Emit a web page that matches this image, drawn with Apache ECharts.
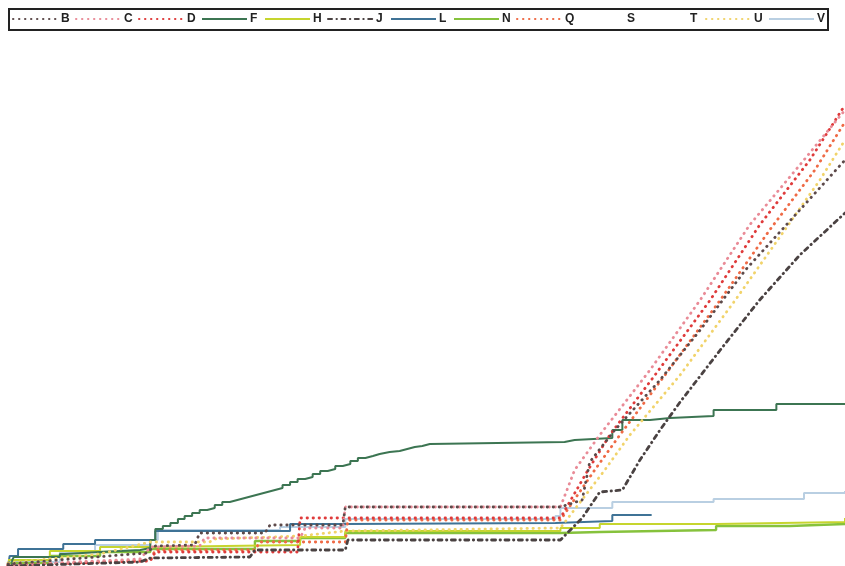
<!DOCTYPE html>
<html>
<head>
<meta charset="utf-8">
<script src="https://cdn.jsdelivr.net/npm/echarts@6/dist/echarts.min.js"></script>
<style>
  html, body { margin: 0; padding: 0; background: #fff; }
  #chart { width: 845px; height: 566px; }
</style>
</head>
<body>
<div id="chart"></div>
<script>
// Legend order
const names = ['B', 'C', 'D', 'F', 'H', 'J', 'L', 'N', 'Q', 'S', 'T', 'U', 'V'];

// Cumulative curves: [x, y] pairs
const seriesB = [[0,0.4],[16.5,2.6],[17.6,4.0],[22.3,4.2],[22.9,6.6],[30.7,6.6],[31.3,8.2],[40.0,8.2],[40.3,11.8],[66.0,11.8],[68.6,13.2],[69.5,20.8],[72.5,27.2],[77.9,37.2],[82.7,47.2],[88.1,59.2],[94.6,71.2],[100,81.2]];
const seriesC = [[0,0.2],[15.8,1.4],[17.0,3.8],[22.9,4.0],[23.5,5.6],[34.9,5.6],[35.5,7.6],[40.0,7.6],[40.3,11.8],[66.0,11.8],[67.7,19.2],[70.7,26.2],[76.7,39.2],[82.7,53.2],[88.6,68.2],[94.6,80.2],[100,91.2]];
const seriesD = [[0,0.2],[17.0,1.0],[17.6,2.8],[34.6,2.8],[34.9,9.6],[66.0,9.6],[69.3,19.2],[71.9,26.2],[77.3,38.2],[83.9,53.2],[89.8,68.2],[95.8,81.2],[100,92.2]];
const seriesF = [[0,0],[0.5,1.2],[0.7,1.8],[6.2,2.4],[6.8,2.8],[11.0,3.2],[15.8,3.6],[17.0,5.2],[17.6,7.4],[18.5,8.0],[19.4,8.6],[20.3,9.4],[21.1,10.0],[22.0,10.6],[22.9,11.2],[23.8,11.6],[24.7,12.2],[25.6,12.8],[26.5,13.2],[27.4,13.6],[28.3,14.0],[29.2,14.4],[30.1,14.8],[31.0,15.2],[31.9,15.6],[32.8,16.2],[33.7,16.8],[34.6,17.4],[35.5,17.8],[36.4,18.4],[37.3,19.0],[38.2,19.4],[39.1,20.0],[40.0,20.4],[40.9,21.0],[41.8,21.6],[42.7,22.0],[43.6,22.4],[44.4,22.8],[45.6,23.0],[46.8,23.4],[47.7,23.8],[48.6,24.0],[49.5,24.4],[50.4,24.8],[66.5,25.2],[67.7,25.6],[72.2,27.2],[73.4,29.2],[76.7,29.6],[79.1,30.0],[84.3,31.2],[91.8,32.4],[100,32.6]];
const seriesH = [[0,1.2],[5.0,3.0],[11.0,3.8],[17.0,4.2],[34.9,5.8],[40.3,7.0],[66.0,7.6],[70.7,8.4],[84.6,8.8],[100,9.6]];
const seriesJ = [[0,0],[15.8,0.8],[17.0,1.6],[28.9,1.8],[29.5,3.2],[40.3,3.2],[40.6,5.2],[66.0,5.2],[68.6,9.6],[70.7,14.8],[73.4,15.2],[75.5,21.2],[77.9,27.2],[80.3,32.8],[85.1,43.2],[89.8,53.2],[94.6,62.2],[100,70.6]];
const seriesL = [[0,0],[0.2,2.0],[1.2,3.4],[6.6,4.4],[10.4,5.2],[17.6,7.0],[33.7,8.4],[40.3,8.6],[65.4,9.0],[72.2,10.2],[76.9,10.2]];
const seriesN = [[0,0.6],[5.0,2.0],[11.0,2.8],[17.0,3.4],[29.5,5.0],[34.9,5.6],[40.3,6.6],[66.0,6.8],[70.7,7.2],[84.6,8.0],[93.4,8.4],[100,8.8]];
const seriesQ = [[0,0.2],[17.0,1.2],[17.6,3.2],[29.5,3.2],[30.1,4.8],[40.3,4.8],[40.6,9.2],[66.0,9.2],[70.1,19.2],[73.1,26.2],[78.5,38.2],[85.1,53.2],[91.0,67.2],[96.4,79.2],[100,88.8]];
const seriesS = [];
const seriesT = [];
const seriesU = [[0,0.6],[11.0,2.4],[17.0,4.8],[24.1,4.8],[24.7,5.4],[34.9,6.0],[40.3,7.0],[66.0,7.6],[71.3,19.2],[74.3,26.2],[80.3,38.2],[86.9,53.2],[92.8,67.2],[97.0,77.2],[100,85.2]];
const seriesV = [[0,0.8],[6.2,2.8],[10.4,4.2],[17.0,5.2],[17.9,7.2],[32.5,7.8],[40.3,9.4],[65.4,10.0],[66.0,11.6],[72.2,12.8],[84.3,13.4],[95.1,14.6],[100,15.0]];

// round dots: a tiny dash with a round cap
const dotted = [0.4, 5.6];

function solid(name, data, color, width) {
  return {
    name, type: 'line', data, step: 'end', symbol: 'none', silent: true,
    lineStyle: { color, width: width || 2 }, itemStyle: { color }
  };
}
function dots(name, data, color, dash) {
  return {
    name, type: 'line', data, symbol: 'none', silent: true,
    lineStyle: { color, width: 2.8, type: dash || dotted, cap: 'round' },
    itemStyle: { color }
  };
}
function blank(name, data) {
  return {
    name, type: 'line', data, symbol: 'none', silent: true,
    lineStyle: { color: 'rgba(255,255,255,0)', width: 0 },
    itemStyle: { color: 'rgba(255,255,255,0)' }
  };
}

// one legend entry per slot, evenly spaced inside a framed strip
const legendLeft = 12, legendStep = 63;
const legends = names.map((n, i) => ({
  data: [n],
  left: legendLeft + i * legendStep, top: 13,
  padding: 0, itemWidth: 45, itemHeight: 14, itemGap: 0,
  selectedMode: false,
  itemStyle: { opacity: 0 },
  textStyle: {
    fontFamily: 'Liberation Sans, Arial, sans-serif',
    fontWeight: 'bold', fontSize: 12, color: '#222', padding: [0, 0, 0, -2]
  }
}));

const chart = echarts.init(document.getElementById('chart'), null, { renderer: 'canvas' });
chart.setOption({
  animation: false,
  backgroundColor: '#fff',
  grid: { left: 8, right: 0, top: 66, bottom: 0 },
  xAxis: { type: 'value', min: 0, max: 100, show: false },
  yAxis: { type: 'value', min: 0, max: 100, show: false },
  legend: legends,
  graphic: [{
    type: 'rect', silent: true,
    shape: { x: 9, y: 9, width: 819, height: 21 },
    style: { fill: 'none', stroke: '#222', lineWidth: 2 }
  }],
  series: [
    solid('V', seriesV, '#b9cfe2'),
    solid('L', seriesL, '#3f7396'),
    solid('N', seriesN, '#86c23c', 2.4),
    solid('H', seriesH, '#c6d52e'),
    solid('F', seriesF, '#3c7552'),
    blank('S', seriesS),
    blank('T', seriesT),
    dots('U', seriesU, '#f1d36a'),
    dots('Q', seriesQ, '#ef6a45'),
    dots('D', seriesD, '#df3b3b'),
    dots('C', seriesC, '#e98b97'),
    dots('B', seriesB, '#5d4a4a'),
    dots('J', seriesJ, '#4a4242', [4, 4.5, 0.4, 4.5])
  ]
});
</script>
</body>
</html>
